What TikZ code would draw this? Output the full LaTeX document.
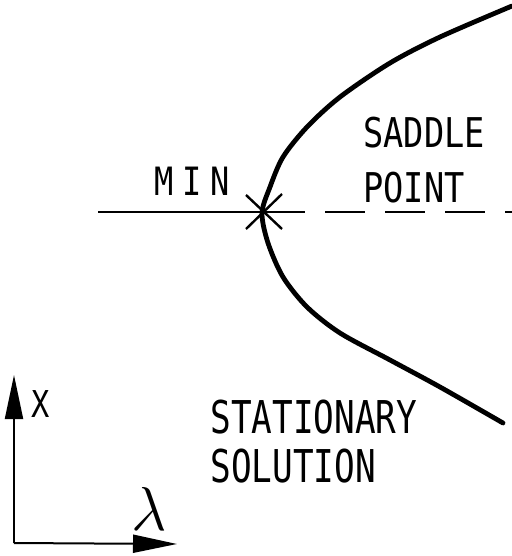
\documentclass[tikz,border=0pt]{standalone}
\usepackage{fix-cm}
\usepackage{fontspec}
\newfontfamily\letterfont[FakeStretch=0.82]{DejaVu Sans Mono}
\newfontfamily\narrowfont[FakeStretch=0.76]{DejaVu Sans Mono}
\usetikzlibrary{arrows.meta,positioning}

\begin{document}
\begin{tikzpicture}[x=0.5pt,y=-0.5pt,
  lbl/.style={inner sep=0pt, anchor=base west, font=\letterfont\fontsize{20.5}{24}\selectfont},
  biglbl/.style={lbl, font=\narrowfont\fontsize{22.6}{27}\selectfont},
  branch/.style={line width=2.4pt, line cap=round},
  axisline/.style={line width=1pt, -{Triangle[length=22pt,width=9pt]}}]
\useasboundingbox (0,0) rectangle (512,556);
% turning point and the x = 0 line
\coordinate (turn) at (263,212);
\coordinate (minend) at (98,212);
\coordinate (solidend) at (305,212);
\coordinate (dashstart) at (325,212);
\coordinate (dashend) at (512,212);
\draw[line width=1.2pt] (minend) -- (solidend);
\draw[line width=1.2pt, dash pattern=on 20pt off 10pt] (dashstart) -- (dashend);
\draw[line width=1.2pt] ([shift={(-17,-17)}]turn) -- ([shift={(19,17)}]turn);
\draw[line width=1.2pt] ([shift={(-17,17)}]turn) -- ([shift={(19,-18)}]turn);
% stationary solution
\draw[branch] plot[smooth] coordinates {(512,6) (440,37) (390,63) (340,97) (307,127)
  (283,157) (270,187) (262,213) (268,243) (283,277) (307,307) (340,333) (390,360)
  (440,387) (503,423)};
% labels
\node[lbl] (saddle) at (363,148) {SADDLE};
\node[lbl, below=27pt of saddle.base west, anchor=base west] (point) {POINT};
\node[lbl, font=\letterfont\fontsize{19.5}{24}\selectfont] (min) at (154,195) {M\kern4.5pt I\kern4.5pt N};
\node[biglbl] (stat) at (210,433) {STATIONARY};
\node[biglbl, below=24.5pt of stat.base west, anchor=base west] (sol) {SOLUTION};
% axes
\coordinate (origin) at (14,543);
\coordinate (xtip) at (14,375);
\coordinate (ltip) at (177,544);
\draw[axisline] (origin) -- (xtip);
\draw[axisline] (origin) -- (ltip);
\node[lbl, font=\letterfont\fontsize{18.5}{22}\selectfont] (xlbl) at (31,417) {X};
\node[lbl, font=\fontsize{31}{36}\selectfont] (lam) at (131,530) {$\lambda$};
\end{tikzpicture}
\end{document}
